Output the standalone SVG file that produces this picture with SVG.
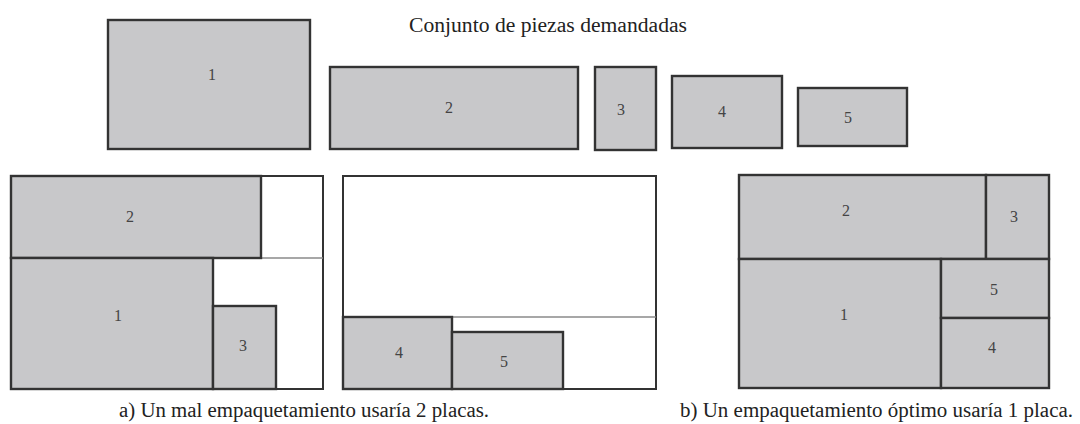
<svg xmlns="http://www.w3.org/2000/svg" width="1080" height="424" viewBox="0 0 1080 424">
<style>
.pc{fill:#c8c8ca;stroke:#333;stroke-width:2.4}
.bin{fill:#fff;stroke:#333;stroke-width:2}
.sep{stroke:#8a8a8a;stroke-width:1.5;fill:none}
.lbl{font-family:"Liberation Serif","DejaVu Serif",serif;font-size:16px;fill:#444;text-anchor:middle}
.cap{font-family:"Liberation Serif","DejaVu Serif",serif;font-size:20px;fill:#222}
</style>
<rect width="1080" height="424" fill="#fff"/>
<text id="title" class="cap" x="409" y="32" textLength="278" lengthAdjust="spacingAndGlyphs" fill="#333">Conjunto de piezas demandadas</text>

<g id="demand">
  <g id="d1"><rect class="pc" x="108" y="20" width="202" height="129"/><text class="lbl" x="212" y="80">1</text></g>
  <g id="d2"><rect class="pc" x="330" y="67" width="248" height="82"/><text class="lbl" x="449" y="113">2</text></g>
  <g id="d3"><rect class="pc" x="595" y="67" width="61" height="83"/><text class="lbl" x="621" y="115">3</text></g>
  <g id="d4"><rect class="pc" x="672" y="76" width="110" height="72"/><text class="lbl" x="722" y="117">4</text></g>
  <g id="d5"><rect class="pc" x="798" y="88" width="109" height="58"/><text class="lbl" x="848" y="123">5</text></g>
</g>

<g id="binA1">
  <rect class="bin" x="11" y="176" width="312" height="213"/>
  <line class="sep" x1="261" y1="258" x2="323" y2="258"/>
  <g id="a1p2"><rect class="pc" x="11" y="176" width="250" height="82"/><text class="lbl" x="130" y="222">2</text></g>
  <g id="a1p1"><rect class="pc" x="11" y="258" width="202" height="131"/><text class="lbl" x="118" y="321">1</text></g>
  <g id="a1p3"><rect class="pc" x="213" y="306" width="63" height="83"/><text class="lbl" x="243" y="351">3</text></g>
</g>

<g id="binA2">
  <rect class="bin" x="343" y="176" width="313" height="213"/>
  <line class="sep" x1="343" y1="317" x2="656" y2="317"/>
  <g id="a2p4"><rect class="pc" x="343" y="317" width="109" height="72"/><text class="lbl" x="399" y="358">4</text></g>
  <g id="a2p5"><rect class="pc" x="452" y="332" width="111" height="57"/><text class="lbl" x="504" y="367">5</text></g>
</g>

<g id="binB">
  <rect class="bin" x="739" y="175" width="310" height="213"/>
  <g id="bp2"><rect class="pc" x="739" y="175" width="247" height="84"/><text class="lbl" x="846" y="216">2</text></g>
  <g id="bp3"><rect class="pc" x="986" y="175" width="63" height="84"/><text class="lbl" x="1014" y="222">3</text></g>
  <g id="bp1"><rect class="pc" x="739" y="259" width="202" height="129"/><text class="lbl" x="844" y="320">1</text></g>
  <g id="bp5"><rect class="pc" x="941" y="259" width="108" height="59"/><text class="lbl" x="994" y="295">5</text></g>
  <g id="bp4"><rect class="pc" x="941" y="318" width="108" height="70"/><text class="lbl" x="992" y="353">4</text></g>
</g>

<text id="capA" class="cap" x="119" y="417" textLength="370" lengthAdjust="spacingAndGlyphs">a) Un mal empaquetamiento usaría 2 placas.</text>
<text id="capB" class="cap" x="680" y="417" textLength="393" lengthAdjust="spacingAndGlyphs">b) Un empaquetamiento óptimo usaría 1 placa.</text>
</svg>
